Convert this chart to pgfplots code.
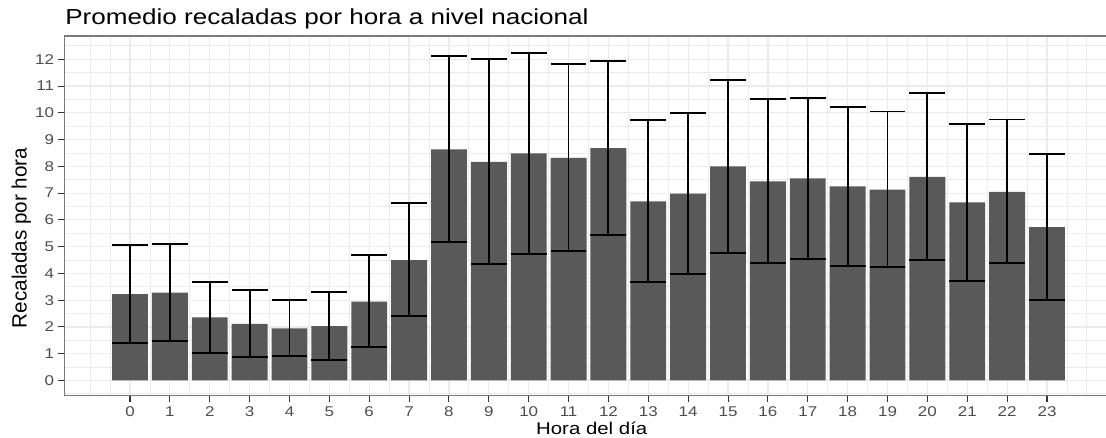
\documentclass[border=0pt]{standalone}
\usepackage{fontspec}
\setmainfont{Liberation Sans}
\usepackage{graphicx}
\usepackage{pgfplots}
\pgfplotsset{compat=1.18}
\usepackage{pgfplotstable}
\definecolor{barfill}{HTML}{595959}
\definecolor{gridc}{HTML}{EBEBEB}
\definecolor{borderc}{HTML}{7A7A7A}
\definecolor{tickc}{HTML}{333333}
\definecolor{labc}{HTML}{4D4D4D}
\newcommand\sx[1]{\scalebox{1.2}[1]{#1}}

\pgfplotstableread{
h m lo hi
0 3.23 1.41 5.07
1 3.28 1.47 5.11
2 2.36 1.04 3.68
3 2.11 0.88 3.37
4 1.95 0.91 3.01
5 2.03 0.78 3.30
6 2.95 1.26 4.68
7 4.50 2.40 6.62
8 8.63 5.16 12.13
9 8.17 4.35 12.01
10 8.48 4.74 12.25
11 8.32 4.84 11.83
12 8.68 5.45 11.94
13 6.69 3.68 9.74
14 6.98 3.97 10.00
15 8.00 4.76 11.24
16 7.44 4.39 10.51
17 7.55 4.55 10.56
18 7.25 4.29 10.21
19 7.13 4.23 10.05
20 7.61 4.49 10.75
21 6.65 3.73 9.59
22 7.05 4.38 9.75
23 5.73 3.02 8.46
}\datatable

\begin{document}
\begin{tikzpicture}
\path[use as bounding box] (0,0) rectangle (829.5pt,328.5pt);
\begin{axis}[
  at={(48pt,31.5pt)}, anchor=south west,
  scale only axis, width=781.5pt, height=270pt,
  xmin=-1.655, xmax=24.48, ymin=-0.58, ymax=12.87,
  axis line style={draw=none},
  xtick={0,...,23}, ytick={0,...,12},
  minor xtick={-0.5,0.5,...,23.5},
  minor ytick={-0.5,0.5,...,12.5},
  extra x ticks={-1,24}, extra x tick labels={},
  extra x tick style={major tick length=0pt},
  grid=both,
  major grid style={gridc, line width=0.9pt},
  minor grid style={gridc, line width=0.6pt},
  tick align=outside, tick pos=left,
  major tick length=4.5pt, minor tick length=0pt,
  major tick style={tickc, line width=0.8pt},
  xticklabel={\sx{\pgfmathprintnumber[assume math mode=true]{\tick}}},
  yticklabel={\sx{\pgfmathprintnumber[assume math mode=true]{\tick}}},
  ticklabel style={font=\fontsize{10.6}{12}\selectfont, text=labc},
  yticklabel style={xshift=0.5pt},
]
\addplot[ybar, bar width=0.9, fill=barfill, draw=none] table[x=h,y=m]{\datatable};
\addplot[draw=none, mark=none, error bars/.cd, y dir=both, y explicit,
  error bar style={draw=black, line width=1.4pt},
  error mark options={draw=black, rotate=90, mark size=13.45pt, line width=1.4pt}]
  table[x=h, y=m, y error plus expr=\thisrow{hi}-\thisrow{m}, y error minus expr=\thisrow{m}-\thisrow{lo}]{\datatable};
\draw[borderc, line width=0.9pt] (rel axis cs:1,1) -- (rel axis cs:0,1) -- (rel axis cs:0,0) -- (rel axis cs:1,0);
\end{axis}
\node[anchor=base west, font=\fontsize{16.3}{19}\selectfont, inner sep=0pt] at (48.75pt,309.75pt) {\sx{Promedio recaladas por hora a nivel nacional}};
\node[anchor=base, font=\fontsize{12.75}{15}\selectfont, inner sep=0pt] at (443.8pt,2.25pt) {\sx{Hora del día}};
\node[anchor=base, rotate=90, font=\fontsize{15.5}{18}\selectfont, inner sep=0pt] at (20pt,150pt) {Recaladas por hora};
\end{tikzpicture}
\end{document}
